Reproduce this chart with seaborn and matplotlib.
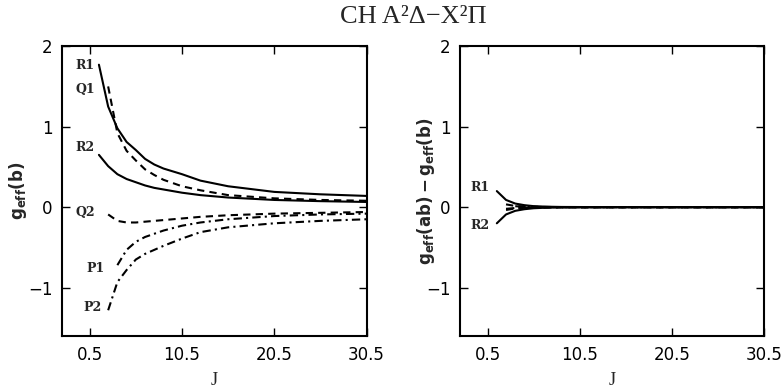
import numpy as np
import pandas as pd
import matplotlib
matplotlib.use('Agg')
import matplotlib.pyplot as plt
import seaborn as sns

# ==============================================================================
# DATA
# ==============================================================================

J_R = [1.5, 2.5, 3.5, 4.5, 5.5, 6.5, 7.5, 8.5, 10.5, 12.5, 15.5, 20.5, 25.5, 30.5]
J_Q = J_R[1:]
J_P1 = J_R[2:]
J_P2 = J_R[1:]

# g_eff(b)
R1_b = [1.77, 1.25, 0.98, 0.81, 0.71, 0.60, 0.53, 0.48, 0.41, 0.33, 0.26, 0.19, 0.16, 0.14]
Q1_b = [1.50, 0.92, 0.70, 0.58, 0.47, 0.40, 0.34, 0.26, 0.21, 0.15, 0.11, 0.09, 0.08]
R2_b = [0.65, 0.51, 0.41, 0.35, 0.31, 0.27, 0.24, 0.22, 0.18, 0.15, 0.12, 0.09, 0.075, 0.065]
Q2_b = [-0.09, -0.17, -0.19, -0.19, -0.18, -0.17, -0.16, -0.14, -0.12, -0.10, -0.08, -0.07, -0.06]
P1_b = [-0.72, -0.53, -0.43, -0.37, -0.33, -0.29, -0.23, -0.19, -0.15, -0.11, -0.09, -0.08]
P2_b = [-1.28, -0.93, -0.78, -0.65, -0.58, -0.53, -0.48, -0.39, -0.31, -0.25, -0.20, -0.17, -0.15]

# g_eff(ab) - g_eff(b)
R1_d = [0.20, 0.09, 0.045, 0.025, 0.013, 0.008, 0.005, 0.003, 0.002, 0.001, 0.0, 0.0, 0.0, 0.0]
R2_d = [-0.20, -0.09, -0.045, -0.025, -0.013, -0.008, -0.005, -0.003, -0.002, -0.001, 0.0, 0.0, 0.0, 0.0]
Q1_d = [0.035, 0.015, 0.008, 0.005, 0.003, 0.002, 0.001, 0.001, 0.0, 0.0, 0.0, 0.0, 0.0]
Q2_d = [-0.035, -0.015, -0.008, -0.005, -0.003, -0.002, -0.001, -0.001, 0.0, 0.0, 0.0, 0.0, 0.0]
P1_d = [0.012, 0.006, 0.004, 0.002, 0.001, 0.001, 0.0, 0.0, 0.0, 0.0, 0.0, 0.0]
P2_d = [-0.02, -0.01, -0.006, -0.004, -0.002, -0.001, -0.001, 0.0, 0.0, 0.0, 0.0, 0.0, 0.0]

X_TICKS = [0.5, 10.5, 20.5, 30.5]
X_LABELS = ['0.5', '10.5', '20.5', '30.5']
Y_TICKS = [-1, 0, 1, 2]
Y_LABELS = ['\u22121', '0', '1', '2']

# ==============================================================================
# PLOT
# ==============================================================================

sns.set_theme(style='ticks')
plt.rcParams['font.family'] = ['DejaVu Sans']
plt.rcParams['mathtext.fontset'] = 'dejavusans'

fig = plt.figure(figsize=(7.82, 3.88), dpi=100)
ax1 = fig.add_axes([0.0793, 0.134, 0.3894, 0.747])
ax2 = fig.add_axes([0.5882, 0.134, 0.3888, 0.747])

dash = (0, (3.5, 2.5))
dashdot = (0, (4, 2, 1, 2))

left_series = [
    ('R1', J_R, R1_b, '-'), ('Q1', J_Q, Q1_b, dash), ('R2', J_R, R2_b, '-'),
    ('Q2', J_Q, Q2_b, dash), ('P1', J_P1, P1_b, dashdot), ('P2', J_P2, P2_b, dashdot),
]
right_series = [
    ('Q1', J_Q, Q1_d, dash), ('Q2', J_Q, Q2_d, dash),
    ('P1', J_P1, P1_d, dashdot), ('P2', J_P2, P2_d, dashdot),
    ('R1', J_R, R1_d, '-'), ('R2', J_R, R2_d, '-'),
]

for ax, series in [(ax1, left_series), (ax2, right_series)]:
    for name, jj, vals, ls in series:
        df = pd.DataFrame({'J': jj, 'g': vals})
        sns.lineplot(data=df, x='J', y='g', ax=ax, color='black',
                     linestyle=ls, linewidth=1.5, sort=False)

for ax in (ax1, ax2):
    ax.set_xlim(-2.5, 30.5)
    ax.set_ylim(-1.6, 2.0)
    ax.set_xticks(X_TICKS)
    ax.set_xticklabels(X_LABELS)
    ax.set_yticks(Y_TICKS)
    ax.set_yticklabels(Y_LABELS)
    ax.tick_params(direction='in', top=True, right=True, length=6, width=1,
                   labelsize=12, color='black', labelcolor='black', pad=7)
    for sp in ax.spines.values():
        sp.set_linewidth(1.5)
        sp.set_color('black')
    ax.set_xlabel('J', family='Liberation Serif', fontsize=13, labelpad=6)

ax1.set_ylabel(r'$\mathbf{g_{eff}(b)}$', fontsize=12)
ax1.yaxis.set_label_coords(-0.11, 0.5)
ax2.set_ylabel(r'$\mathbf{g_{eff}(ab) - g_{eff}(b)}$', fontsize=12)
ax2.yaxis.set_label_coords(-0.075, 0.5)

# branch labels
lab = dict(fontsize=9, fontweight='bold', family='DejaVu Serif', ha='center', va='center')
ax1.text(0.0, 1.76, 'R1', **lab)
ax1.text(0.0, 1.46, 'Q1', **lab)
ax1.text(0.0, 0.74, 'R2', **lab)
ax1.text(0.0, -0.06, 'Q2', **lab)
ax1.text(1.15, -0.76, 'P1', **lab)
ax1.text(0.8, -1.25, 'P2', **lab)
ax2.text(-0.3, 0.24, 'R1', **lab)
ax2.text(-0.3, -0.23, 'R2', **lab)

fig.text(0.528, 0.955, 'CH A\u00b2\u0394\u2212X\u00b2\u03a0', family='Liberation Serif',
         fontsize=19, ha='center', va='center')

fig.savefig('out.png', dpi=100)
